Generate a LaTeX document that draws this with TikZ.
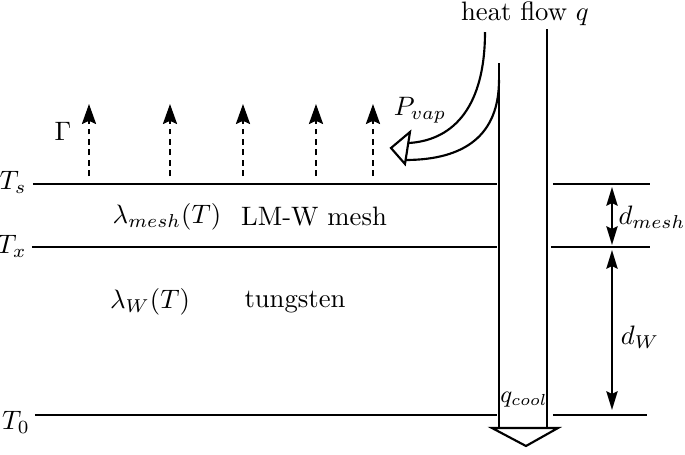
\documentclass[tikz,border=0pt]{standalone}
\usetikzlibrary{arrows.meta}
\begin{document}
\begin{tikzpicture}[x=0.375pt,y=-0.375pt, line width=0.8pt,
  layer/.style={line width=0.8pt},
  lbl/.style={inner sep=0pt},
  gam/.style={dash pattern=on 2.2pt off 1.7pt, -{Stealth[length=7.5pt,width=5.3pt,inset=1.2pt]}},
  dimarrow/.style={{Stealth[length=7pt,width=4.2pt,inset=1pt]}-{Stealth[length=7pt,width=4.2pt,inset=1pt]}},
  outline/.style={line width=0.8pt, line join=miter}
]
\useasboundingbox (0,0) rectangle (685,455);

% layer lines
\coordinate (sL) at (33,184);  \coordinate (sM) at (497,184);
\coordinate (sN) at (553,184); \coordinate (sR) at (650,184);
\coordinate (xL) at (32,247);  \coordinate (xM) at (497,247);
\coordinate (xN) at (551,247); \coordinate (xR) at (650,247);
\coordinate (oL) at (35,415);  \coordinate (oM) at (497,415);
\coordinate (oN) at (553,415); \coordinate (oR) at (647,415);
\draw[layer] (sL) -- (sM) (sN) -- (sR);
\draw[layer] (xL) -- (xM) (xN) -- (xR);
\draw[layer] (oL) -- (oM) (oN) -- (oR);

% temperature labels
\node[lbl] (Ts) at (13,182) {$T_s$};
\node[lbl] (Tx) at (12,246) {$T_x$};
\node[lbl] (T0) at (16,422) {$T_0$};

% big heat flow arrow
\coordinate (aLt) at (499,63);
\coordinate (aLb) at (499,428);
\coordinate (aRt) at (547,29);
\coordinate (aRb) at (547,428);
\coordinate (hL) at (492,428);
\coordinate (hR) at (558,428);
\coordinate (hT) at (526,446);
\draw[outline] (aLt) -- (aLb);
\draw[outline] (aRt) -- (aRb);
\draw[outline] (hL) -- (hR) -- (hT) -- cycle;

% curved P_vap arrow
\coordinate (cO1) at (485,32);
\coordinate (cO2) at (409,143);
\coordinate (cI1) at (499,80);
\coordinate (cI2) at (405,160);
\coordinate (pA) at (410,132);
\coordinate (pB) at (391,148);
\coordinate (pC) at (405,164);
\draw[outline] (cO1) .. controls (485,105) and (455,140) .. (cO2);
\draw[outline] (cI1) .. controls (499,135) and (465,160) .. (cI2);
\draw[outline] (pA) -- (pB) -- (pC) -- cycle;

% Gamma arrows
\foreach \i/\x in {1/89,2/170,3/243,4/316,5/373}{
  \coordinate (g\i a) at (\x,176);
  \coordinate (g\i b) at (\x,104);
  \draw[gam] (g\i a) -- (g\i b);
}

% dimension arrows
\coordinate (dm1) at (612,187); \coordinate (dm2) at (612,245);
\coordinate (dw1) at (612,250); \coordinate (dw2) at (612,410);
\draw[dimarrow] (dm1) -- (dm2);
\draw[dimarrow] (dw1) -- (dw2);

% texts
\node[lbl] (heat) at (525,14) {heat flow $q$};
\node[lbl] (pvap) at (420,110) {$P_{vap}$};
\node[lbl] (gamma) at (63,131) {$\Gamma$};
\node[lbl] (lmesh) at (167,217) {$\lambda_{mesh}(T)$};
\node[lbl] (lmw) at (314,217) {LM-W mesh};
\node[lbl] (lw) at (150,302) {$\lambda_W(T)$};
\node[lbl] (tung) at (295,302) {tungsten};
\node[lbl] (dmesh) at (652,217) {$d_{mesh}$};
\node[lbl] (dW) at (640,337) {$d_W$};
\node[lbl] (qcool) at (524,400) {\small $q_{cool}$};
\end{tikzpicture}
\end{document}
